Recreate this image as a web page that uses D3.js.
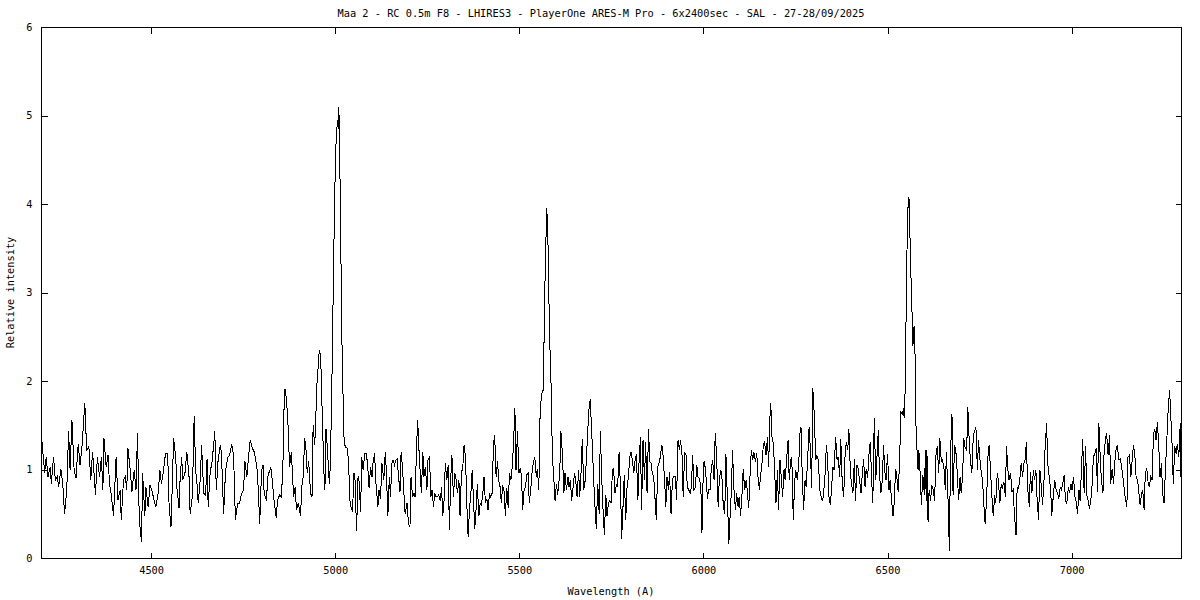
<!DOCTYPE html>
<html><head><meta charset="utf-8">
<script src="https://cdn.jsdelivr.net/npm/d3@7"></script>
<style>
html,body{margin:0;padding:0;background:#fff;}
text{font-family:"DejaVu Sans Mono","Liberation Mono",monospace;font-size:10.3px;fill:#000;}
</style></head>
<body><svg id="chart" width="1200" height="600"></svg>
<script>
const titleText = "Maa 2 - RC 0.5m F8 - LHIRES3 - PlayerOne ARES-M Pro - 6x2400sec - SAL - 27-28/09/2025";
const xLabel = "Wavelength (A)";
const yLabel = "Relative intensity";
const xTicks = [4500, 5000, 5500, 6000, 6500, 7000];
const yTicks = [0, 1, 2, 3, 4, 5, 6];
const xDomain = [4201, 7297];
const yDomain = [0, 6];
// [wavelength (A), relative intensity]
const spectrum = [
[4201,1.45],[4206,1.20],[4211,0.96],[4215,1.14],[4220,0.92],[4226,1.03],[4229,0.84],[4235,1.14],[4240,0.88],[4245,0.92],[4249,0.80],[4255,1.01],[4260,0.84],[4265,0.50],[4271,0.77],[4276,1.43],[4280,0.99],[4285,1.56],[4291,0.99],[4296,0.90],[4302,1.29],[4307,1.05],[4312,1.24],[4320,1.75],[4325,1.22],[4331,1.26],[4336,0.88],[4341,1.20],[4349,0.71],[4354,1.14],[4360,0.92],[4365,1.14],[4369,0.77],[4372,1.35],[4378,1.03],[4383,1.16],[4387,0.84],[4392,0.71],[4398,0.47],[4405,1.14],[4410,0.65],[4416,0.77],[4419,0.43],[4425,0.88],[4430,0.92],[4434,0.77],[4437,1.24],[4443,1.01],[4448,0.75],[4454,0.99],[4459,0.77],[4463,1.41],[4468,0.43],[4474,0.18],[4477,0.96],[4483,0.47],[4486,0.80],[4492,0.58],[4497,0.82],[4502,0.77],[4508,0.65],[4513,0.58],[4519,0.73],[4524,0.99],[4528,0.84],[4533,0.96],[4539,1.18],
[4545,1.18],[4549,0.58],[4554,0.35],[4558,0.88],[4561,1.35],[4567,1.14],[4570,0.80],[4576,0.56],[4579,0.92],[4583,1.14],[4586,0.88],[4592,0.96],[4597,1.20],[4603,0.92],[4606,0.50],[4612,0.69],[4617,1.60],[4621,0.99],[4624,0.88],[4628,0.62],[4634,0.92],[4637,1.28],[4643,0.73],[4648,0.71],[4652,1.12],[4655,0.58],[4661,1.01],[4664,1.03],[4670,1.28],[4673,1.43],[4677,0.77],[4682,1.11],[4688,1.28],[4691,1.18],[4697,0.50],[4702,0.97],[4708,1.14],[4713,1.16],[4719,1.29],[4724,1.16],[4729,0.43],[4735,0.62],[4740,0.62],[4746,0.73],[4751,0.77],[4755,1.09],[4760,0.92],[4764,1.11],[4769,1.33],[4775,1.24],[4780,1.20],[4784,1.12],[4789,0.96],[4795,0.39],[4800,0.99],[4804,1.05],[4807,0.73],[4813,0.65],[4818,0.96],[4822,0.97],[4825,1.03],[4829,0.88],[4834,0.65],[4840,0.45],[4843,0.65],[4849,0.71],[4854,0.69],[4858,1.05],[4862,1.90],[4865,1.90],[4871,1.60],[4876,1.03],[4881,1.20],[4887,0.69],
[4891,0.80],[4895,0.54],[4900,0.62],[4906,0.47],[4909,0.80],[4913,0.92],[4917,1.35],[4920,1.28],[4924,0.96],[4928,1.09],[4933,0.73],[4937,0.69],[4940,1.50],[4944,1.28],[4947,1.48],[4949,1.90],[4952,2.05],[4955,2.25],[4957,2.35],[4960,2.30],[4963,1.95],[4964,1.75],[4966,1.45],[4970,0.90],[4972,0.77],[4975,1.46],[4979,1.22],[4984,0.84],[4987,1.07],[4991,2.00],[4993,2.50],[4995,3.20],[4998,3.90],[5001,4.60],[5004,4.80],[5006,4.95],[5008,4.85],[5010,5.10],[5013,4.30],[5015,3.60],[5018,2.50],[5021,1.90],[5023,1.40],[5027,1.26],[5032,1.24],[5036,1.11],[5040,0.65],[5043,0.58],[5047,0.52],[5051,0.96],[5054,0.88],[5058,0.30],[5062,0.92],[5065,0.86],[5069,0.52],[5072,1.14],[5076,0.99],[5080,1.18],[5085,1.18],[5089,0.99],[5092,0.79],[5096,1.03],[5100,0.92],[5103,1.09],[5107,1.18],[5110,0.88],[5116,0.58],[5119,0.77],[5123,0.67],[5127,1.07],[5132,0.88],[5136,1.20],[5139,0.97],[5143,0.47],[5147,0.92],[5150,0.69],[5154,1.07],[5157,1.11],[5161,1.05],[5165,1.11],[5168,1.12],[5172,0.92],[5176,0.75],[5179,1.20],[5183,1.01],[5186,0.77],[5190,0.50],[5195,0.62],[5199,0.39],[5203,0.35],[5206,0.92],[5210,0.69],[5214,0.73],[5217,0.69],[5221,1.26],[5224,1.56],
[5227,1.26],[5231,0.96],[5234,0.73],[5238,1.20],[5241,0.92],[5245,1.03],[5249,0.77],[5252,1.11],[5256,1.14],[5260,0.69],[5263,0.77],[5267,0.58],[5270,0.73],[5274,0.69],[5278,0.69],[5281,0.71],[5285,0.65],[5289,0.80],[5292,0.47],[5296,0.67],[5299,1.07],[5303,0.88],[5307,1.05],[5310,0.32],[5314,0.92],[5317,1.16],[5321,0.69],[5325,0.96],[5328,0.90],[5332,0.73],[5336,0.88],[5339,0.47],[5343,0.99],[5346,0.99],[5350,1.28],[5354,1.14],[5357,0.65],[5361,0.24],[5365,0.58],[5368,0.69],[5372,0.99],[5375,0.71],[5379,0.33],[5383,0.58],[5386,0.84],[5390,0.47],[5394,0.62],[5397,0.60],[5401,0.73],[5404,0.92],[5408,0.62],[5412,0.67],[5415,0.54],[5419,0.73],[5422,0.69],[5426,0.73],[5430,1.29],[5433,1.39],[5437,0.92],[5441,1.09],[5444,0.88],[5448,0.80],[5451,0.62],[5455,0.82],[5459,0.75],[5462,0.48],[5466,0.79],[5470,0.56],[5473,0.96],[5477,0.88],[5480,0.99],[5484,1.26],[5488,1.69],[5491,0.99],[5495,1.43],[5499,0.96],[5502,1.01],[5506,0.94],[5509,0.54],[5513,0.77],[5517,0.80],[5520,0.94],[5524,0.96],[5527,0.62],[5531,0.77],[5535,0.99],[5538,1.07],[5542,1.14],[5546,0.92],[5549,1.01],[5553,0.77],[5556,1.56],
[5560,1.85],[5565,1.90],[5567,2.40],[5569,3.00],[5572,3.50],[5574,3.95],[5577,3.80],[5580,3.00],[5583,2.40],[5586,2.00],[5588,1.50],[5591,1.07],
[5594,0.88],[5597,0.65],[5601,0.84],[5604,0.71],[5608,0.88],[5612,1.18],[5613,1.43],[5617,1.18],[5621,0.73],[5624,0.96],[5628,0.77],[5632,0.92],[5635,0.80],[5639,0.88],[5642,0.65],[5646,0.80],[5650,0.96],[5653,0.88],[5657,0.69],[5661,0.99],[5664,0.69],[5668,0.99],[5671,1.35],[5675,0.77],[5679,0.88],[5682,1.11],[5686,1.45],[5689,1.67],[5693,1.80],[5695,1.56],[5699,1.20],[5702,0.88],[5706,0.54],[5709,0.33],[5713,0.84],[5717,0.50],[5720,1.43],[5724,0.88],[5727,0.58],[5731,0.26],[5735,0.71],[5738,0.47],[5742,0.62],[5746,0.65],[5749,0.62],[5753,0.99],[5756,1.01],[5760,0.73],[5764,0.84],[5767,0.80],[5771,1.20],[5775,0.77],[5778,0.22],[5782,0.62],[5785,0.94],[5789,0.43],[5793,0.84],[5796,0.90],[5800,1.14],[5803,1.20],[5807,1.11],[5811,0.96],[5814,1.09],[5818,1.18],[5822,0.65],[5825,1.07],[5829,1.37],[5832,0.54],[5836,1.33],[5840,0.88],[5843,1.31],[5847,0.73],[5851,1.46],[5854,1.09],[5858,1.07],[5861,0.96],[5865,0.92],[5869,0.64],[5872,0.43],[5876,1.03],[5879,1.07],[5883,1.14],[5887,1.28],[5890,1.18],[5894,0.92],[5898,0.58],[5901,0.92],[5905,0.77],[5908,0.97],[5912,0.50],[5916,0.90],
[5920,0.92],[5924,0.92],[5927,0.65],[5931,1.33],[5935,1.22],[5938,1.33],[5942,1.16],[5945,0.69],[5949,1.20],[5953,1.16],[5956,0.80],[5960,0.77],[5964,0.73],[5967,0.80],[5971,1.16],[5974,0.77],[5978,0.80],[5982,1.05],[5985,0.92],[5989,0.90],[5993,0.80],[5996,0.28],[6000,1.07],[6003,1.09],[6007,0.92],[6011,0.67],[6014,0.77],[6018,0.77],[6021,0.99],[6025,1.11],[6029,0.88],[6032,1.41],[6036,1.14],[6040,0.58],[6043,0.88],[6047,0.99],[6050,0.94],[6054,0.58],[6058,0.50],[6061,1.18],[6065,0.69],[6069,0.16],[6072,0.43],[6076,0.77],[6079,1.22],[6083,0.77],[6087,0.54],[6090,0.73],[6094,0.58],[6097,0.69],[6101,0.48],[6105,0.73],[6108,1.01],[6112,0.77],[6116,0.88],[6119,0.77],[6123,0.56],[6126,0.88],[6130,1.22],[6134,1.11],[6137,1.20],[6141,1.09],[6145,1.18],[6148,0.92],[6152,0.77],[6155,0.92],[6159,1.07],[6163,1.29],[6166,1.31],[6170,1.16],[6174,1.37],[6177,1.03],[6181,1.63],[6183,1.75],[6186,1.37],[6190,1.29],[6193,1.03],[6197,0.62],[6201,0.99],[6204,0.54],[6208,1.11],[6212,0.88],[6215,0.69],[6219,1.01],[6222,0.88],[6226,1.12],[6230,1.33],[6233,0.88],[6237,1.11],[6240,1.14],[6244,0.43],[6248,0.88],[6251,0.99],[6255,0.88],[6259,1.07],[6262,1.41],
[6265,1.48],[6268,0.99],[6272,0.54],[6276,0.88],[6279,0.80],[6283,1.12],[6287,1.48],[6290,1.26],[6294,0.79],[6297,1.92],[6301,1.63],[6305,1.11],[6308,1.16],[6312,1.11],[6316,0.77],[6319,0.71],[6323,0.64],[6326,0.71],[6330,0.92],[6334,1.28],[6337,1.14],[6341,0.69],[6345,0.60],[6348,0.80],[6352,1.03],[6355,0.99],[6359,1.37],[6363,1.11],[6366,1.14],[6370,0.92],[6373,1.35],[6377,0.84],[6381,0.69],[6384,1.11],[6388,1.31],[6392,1.22],[6395,1.46],[6399,0.99],[6402,0.84],[6406,0.73],[6410,1.12],[6413,0.64],[6417,1.05],[6420,1.01],[6424,0.88],[6428,0.73],[6431,0.92],[6435,1.12],[6439,0.80],[6442,1.01],[6446,0.90],[6449,1.14],[6453,1.31],[6457,0.88],[6460,0.62],[6464,1.58],[6468,0.88],[6471,1.11],[6475,1.45],[6478,0.96],[6482,0.73],[6486,0.88],[6489,1.28],[6493,0.96],[6496,0.88],[6500,1.18],[6504,0.77],[6507,0.88],[6511,0.65],[6515,0.47],[6518,0.62],[6522,1.01],[6525,0.92],[6529,0.75],[6533,1.11],[6536,1.65],[6540,1.63],[6544,1.69],[6545,1.58],[6547,1.78],
[6549,2.10],[6550,2.54],[6551,3.18],[6553,3.50],[6555,3.93],[6558,4.08],[6560,3.93],[6562,3.33],[6565,3.06],[6567,2.69],[6569,2.40],[6571,2.60],[6573,2.62],[6574,2.50],[6576,1.90],[6578,1.30],[6580,1.22],[6583,0.99],[6585,1.22],[6589,0.92],[6592,0.60],[6596,0.94],[6600,0.71],[6603,1.22],[6605,0.64],[6607,1.22],[6610,0.41],
[6613,0.77],[6617,0.65],[6620,0.82],[6624,0.77],[6628,0.64],[6631,1.14],[6635,1.26],[6639,0.96],[6642,1.35],[6646,1.09],[6649,1.11],[6653,1.03],[6657,0.77],[6660,1.20],[6664,0.71],[6668,0.08],[6671,1.18],[6675,1.63],[6678,0.71],[6682,1.28],[6686,1.18],[6689,0.99],[6693,0.65],[6697,0.92],[6700,0.73],[6704,0.94],[6707,1.35],[6711,1.24],[6715,1.22],[6718,1.71],[6722,1.31],[6725,1.11],[6729,0.96],[6733,1.39],[6736,1.43],[6740,1.48],[6744,0.99],[6747,1.33],[6751,1.11],[6754,0.99],[6758,0.88],[6762,0.58],[6765,0.39],[6769,0.65],[6773,1.16],[6776,1.28],[6780,0.96],[6783,0.73],[6787,0.47],[6791,0.71],[6794,0.62],[6798,0.96],[6801,0.88],[6805,0.62],[6809,0.84],[6812,0.80],[6816,0.86],[6820,0.69],[6823,1.26],[6827,0.99],[6830,0.88],[6834,0.96],[6838,0.75],[6841,0.77],[6845,0.47],[6849,0.26],[6852,0.80],[6856,0.79],[6859,0.88],[6863,1.07],[6867,0.92],[6870,1.07],[6874,1.11],[6877,1.31],[6881,0.77],[6885,0.58],[6888,0.97],[6892,0.73],[6896,0.99],[6899,0.88],[6903,0.99],[6906,0.69],[6910,0.43],[6914,0.99],[6917,0.84],[6921,0.60],[6925,0.88],[6928,1.26],[6932,1.52],[6935,1.07],[6939,0.92],[6943,0.77],[6946,0.48],[6950,0.69],
[6954,0.88],[6958,0.77],[6962,0.73],[6965,0.67],[6969,0.80],[6972,0.77],[6976,0.84],[6980,0.94],[6983,0.65],[6987,0.62],[6991,0.80],[6994,0.73],[6998,0.84],[7001,0.77],[7005,0.92],[7009,0.69],[7012,0.64],[7016,0.50],[7020,0.77],[7023,0.64],[7027,1.03],[7030,1.35],[7034,0.73],[7038,1.26],[7041,0.71],[7045,0.65],[7048,0.56],[7052,0.65],[7056,0.84],[7059,1.14],[7063,1.18],[7067,1.24],[7070,0.75],[7074,1.52],[7078,1.09],[7081,0.88],[7085,0.73],[7088,1.18],[7092,1.35],[7095,1.41],[7099,1.16],[7103,1.39],[7106,0.84],[7110,1.01],[7114,0.84],[7117,1.07],[7121,1.24],[7124,1.28],[7128,1.11],[7132,1.12],[7135,1.05],[7139,0.92],[7143,0.77],[7146,0.67],[7150,0.58],[7153,1.14],[7157,1.16],[7161,0.92],[7164,1.09],[7168,1.28],[7172,1.14],[7175,0.92],[7179,0.88],[7182,0.77],[7186,0.60],[7190,0.73],[7193,0.77],[7197,0.54],[7200,0.96],[7204,1.01],[7208,0.84],[7211,0.80],[7215,0.92],[7219,0.88],[7222,1.41],[7226,1.45],[7229,1.33],[7233,1.54],[7237,1.22],[7240,0.92],[7244,1.07],[7247,0.73],[7251,0.62],[7255,1.03],[7258,1.29],[7262,1.67],[7266,1.90],[7269,1.63],[7273,1.26],[7276,0.84],[7280,1.26],[7284,1.18],[7287,1.29],[7291,1.14],[7295,1.52],[7297,0.92]
];

const svg = d3.select("#chart");
const W = 1200, H = 600;
const m = {left: 41, right: 1181, top: 27, bottom: 558};
svg.append("rect").attr("width", W).attr("height", H).attr("fill", "#fff");

const x = d3.scaleLinear().domain(xDomain).range([m.left, m.right]);
const y = d3.scaleLinear().domain(yDomain).range([m.bottom, m.top]);
const tickLen = 6;

// axes (ticks inward, mirrored) via d3 axes
const gB = svg.append("g").attr("transform", `translate(0,${m.bottom + 0.5})`)
  .call(d3.axisBottom(x).tickValues(xTicks).tickSize(-tickLen).tickPadding(10).tickFormat(d3.format("d")));
const gT = svg.append("g").attr("transform", `translate(0,${m.top + 0.5})`)
  .call(d3.axisTop(x).tickValues(xTicks).tickSize(-tickLen).tickFormat(""));
const gL = svg.append("g").attr("transform", `translate(${m.left + 0.5},0)`)
  .call(d3.axisLeft(y).tickValues(yTicks).tickSize(-tickLen).tickPadding(9).tickFormat(d3.format("d")));
const gR = svg.append("g").attr("transform", `translate(${m.right + 0.5},0)`)
  .call(d3.axisRight(y).tickValues(yTicks).tickSize(-tickLen).tickFormat(""));
[gB, gT, gL, gR].forEach(g => {
  g.select(".domain").remove();
  g.selectAll("line").attr("stroke", "#000").attr("shape-rendering", "crispEdges");
  g.selectAll("text").attr("font-family", null).attr("font-size", null).attr("fill", "#000");
});
gB.selectAll("text").attr("dy", "0.5em");

// border
svg.append("rect")
  .attr("x", m.left + 0.5).attr("y", m.top + 0.5)
  .attr("width", m.right - m.left).attr("height", m.bottom - m.top)
  .attr("fill", "none").attr("stroke", "#000").attr("shape-rendering", "crispEdges");

svg.append("clipPath").attr("id", "clip").append("rect")
  .attr("x", m.left).attr("y", m.top).attr("width", m.right - m.left + 1).attr("height", m.bottom - m.top + 1);

const line = d3.line().x(d => x(d[0])).y(d => y(d[1]));
svg.append("path").datum(spectrum)
  .attr("clip-path", "url(#clip)")
  .attr("d", line).attr("fill", "none").attr("stroke", "#000").attr("stroke-width", 1)
  .attr("shape-rendering", "crispEdges");

svg.append("text").attr("x", 601).attr("y", 17).attr("text-anchor", "middle").text(titleText);
svg.append("text").attr("x", (m.left + m.right) / 2).attr("y", 595).attr("text-anchor", "middle").text(xLabel);
svg.append("text").attr("transform", `translate(14,${(m.top + m.bottom) / 2}) rotate(-90)`)
  .attr("text-anchor", "middle").text(yLabel);
</script></body></html>
